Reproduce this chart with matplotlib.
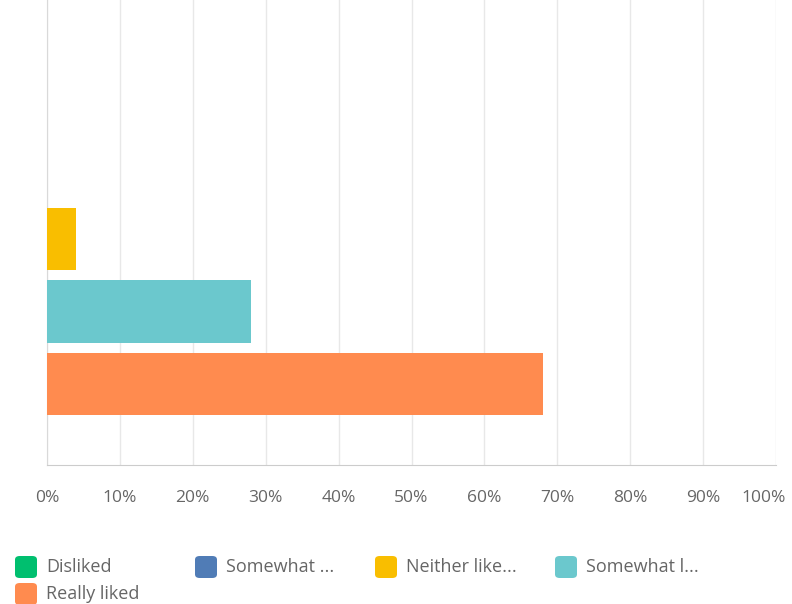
import matplotlib.pyplot as plt
from matplotlib.patches import FancyBboxPatch
from matplotlib.transforms import ScaledTranslation

plt.rcParams['font.family'] = ['Open Sans', 'DejaVu Sans']

categories = ["Disliked", "Somewhat disliked", "Neither liked nor disliked",
              "Somewhat liked", "Really liked"]
legend_labels = ["Disliked", "Somewhat ...", "Neither like...", "Somewhat l...", "Really liked"]
values = [0, 0, 4, 28, 68]
colors = ["#00bf6f", "#507cb6", "#f9be00", "#6bc8cd", "#ff8b4f"]
ticks = [0, 10, 20, 30, 40, 50, 60, 70, 80, 90, 100]

fig = plt.figure(figsize=(7.92, 6.04), dpi=100)
ax = fig.add_axes([47 / 792, 1 - 465 / 604, 729 / 792, 465 / 604])

ypos = [4, 3, 2, 1, 0]
ax.barh(ypos, values, height=0.86, color=colors, zorder=3)

ax.set_xlim(0, 100)
ax.set_ylim(-1.12, 5.3)
ax.set_xticks(ticks)
ax.set_xticklabels([f"{t}%" for t in ticks], color="#666666", fontsize=12.5)
ax.set_yticks([])
ax.tick_params(axis="x", length=0, pad=18)
ax.grid(axis="x", color="#e8e8e8", linewidth=1, zorder=0)
for s in ["top", "right"]:
    ax.spines[s].set_visible(False)
ax.spines["left"].set_color("#d9d9d9")
ax.spines["bottom"].set_color("#cccccc")

# keep the 100% label inside the figure
last = ax.get_xticklabels()[-1]
last.set_transform(last.get_transform() + ScaledTranslation(-0.12, 0, fig.dpi_scale_trans))

# legend drawn by hand to match layout
pos = [(15, 567), (195, 567), (375, 567), (555, 567), (15, 594)]
for (px, py), lab, c in zip(pos, legend_labels, colors):
    x0 = px / 792
    y0 = 1 - (py + 11) / 604
    box = FancyBboxPatch((x0, y0), 22 / 792, 22 / 604,
                         boxstyle="round,pad=0,rounding_size=0.006",
                         transform=fig.transFigure, facecolor=c, edgecolor="none")
    fig.patches.append(box)
    fig.text((px + 31) / 792, 1 - py / 604, lab, color="#666666",
             fontsize=13, va="center", ha="left")

fig.savefig("out.png", dpi=100)
